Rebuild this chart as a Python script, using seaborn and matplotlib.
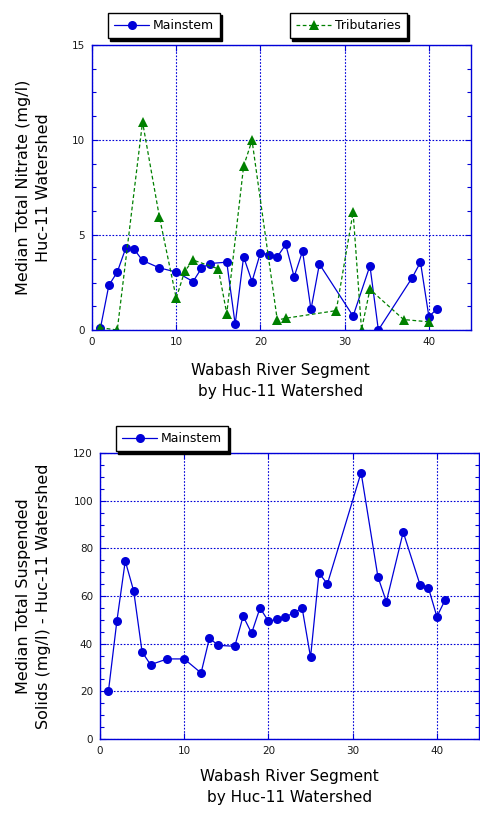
import matplotlib
matplotlib.use("Agg")
import matplotlib.pyplot as plt
from matplotlib.ticker import MultipleLocator
import seaborn as sns
import numpy as np

# ---- data ----
main_no3_x = [1, 2, 3, 4, 5, 6, 8, 10, 12, 13, 14, 16, 17, 18, 19, 20, 21, 22, 23, 24,
              25, 26, 27, 31, 33, 34, 38, 39, 40, 41]
main_no3_y = [0.1, 2.35, 3.05, 4.3, 4.25, 3.66, 3.27, 3.05, 2.55, 3.25, 3.5, 3.57, 0.3, 3.85,
              2.55, 4.07, 3.96, 3.85, 4.5, 2.8, 4.15, 1.08, 3.47, 0.73, 3.38, 0.0, 2.74, 3.57,
              0.7, 1.13]
trib_no3_x = [1, 3, 6, 8, 10, 11, 12, 15, 16, 18, 19, 22, 23, 29, 31, 32, 33, 37, 40]
trib_no3_y = [0.12, 0.0, 10.95, 5.96, 1.68, 3.08, 3.68, 3.22, 0.86, 8.62, 9.98, 0.52, 0.62,
              1.02, 6.2, 0.02, 2.14, 0.55, 0.43]

main_tss_x = [1, 2, 3, 4, 5, 6, 8, 10, 12, 13, 14, 16, 17, 18, 19, 20, 21, 22, 23, 24,
              25, 26, 27, 31, 33, 34, 36, 38, 39, 40, 41]
main_tss_y = [20, 49.4, 74.7, 62.1, 36.5, 31.2, 33.6, 33.6, 27.7, 42.4, 39.3, 38.9, 51.5, 44.4,
              55.0, 49.4, 50.2, 51.3, 52.8, 55.0, 34.3, 69.6, 65.1, 111.8, 68.0, 57.6, 86.8,
              64.7, 63.4, 51.3, 58.5]

top_labels = ["Mainstem", "Tributaries"]
top_ylabel = "Median Total Nitrate (mg/l)\nHuc-11 Watershed"
bot_ylabel = "Median Total Suspended\nSolids (mg/l) - Huc-11 Watershed"
xlabel = "Wabash River Segment\nby Huc-11 Watershed"

BLUE = "#0000D8"
GREEN = "#008000"

sns.set_style("white")
plt.rcParams["font.family"] = ["DejaVu Sans"]
plt.rcParams["text.color"] = "black"
plt.rcParams["axes.labelcolor"] = "black"

W, H = 480, 813
fig = plt.figure(figsize=(W / 100, H / 100), dpi=100)

def style_axes(ax, ymax, ymajor, yminor):
    ax.set_xlim(0, 45)
    ax.set_ylim(0, ymax)
    ax.xaxis.set_major_locator(MultipleLocator(10))
    ax.yaxis.set_major_locator(MultipleLocator(ymajor))
    ax.yaxis.set_minor_locator(MultipleLocator(yminor))
    for s in ax.spines.values():
        s.set_color(BLUE)
        s.set_linewidth(1.0)
        s.set_visible(True)
    ax.grid(True, which="major", color=BLUE, linestyle=(0, (1.5, 1.5)), linewidth=0.8)
    ax.tick_params(axis="both", which="major", direction="in", length=4, width=0.8,
                   color=BLUE, labelsize=7.5, labelcolor="#1a1a1a", pad=5)
    ax.tick_params(axis="y", which="both", left=True, right=True)
    ax.tick_params(axis="y", which="minor", direction="in", length=3, width=0.8, color=BLUE)
    ax.tick_params(axis="x", which="major", bottom=True, top=True)
    ax.set_axisbelow(True)

# ---- top chart ----
ax1 = fig.add_axes([92 / W, 1 - 330 / H, 379 / W, 285 / H])
sns.lineplot(x=main_no3_x, y=main_no3_y, ax=ax1, color=BLUE, marker="o", markersize=6.5,
             markeredgewidth=0, linewidth=0.9, label=top_labels[0], legend=False)
sns.lineplot(x=trib_no3_x, y=trib_no3_y, ax=ax1, color=GREEN, marker="^", markersize=6.5,
             markeredgewidth=0, linewidth=0.9, linestyle=(0, (3, 2)), label=top_labels[1],
             legend=False)
style_axes(ax1, 15, 5, 1.25)
ax1.set_xlabel(xlabel, fontsize=11, linespacing=1.5)
ax1.set_ylabel(top_ylabel, fontsize=11.5, linespacing=1.45)
ax1.yaxis.set_label_coords(-0.108, 0.5)
ax1.xaxis.set_label_coords(0.497, -0.115)
ax1.xaxis.label.set_va("top")

lines = ax1.get_lines()
leg_kw = dict(frameon=True, fancybox=False, edgecolor="black", fontsize=9,
              handlelength=2.8, borderaxespad=0, borderpad=0.5, handletextpad=0.3,
              shadow={"color": "black", "alpha": 1, "ox": 1.5, "oy": -1.5})
lg1 = fig.legend([lines[0]], [top_labels[0]], loc="upper left",
                 bbox_to_anchor=(108 / W, 1 - 13 / H), **leg_kw)
lg2 = fig.legend([lines[1]], [top_labels[1]], loc="upper left",
                 bbox_to_anchor=(290 / W, 1 - 13 / H), **leg_kw)
for lg in (lg1, lg2):
    lg.get_frame().set_linewidth(1.0)

# ---- bottom chart ----
ax2 = fig.add_axes([100 / W, 1 - 739 / H, 379 / W, 286 / H])
sns.lineplot(x=main_tss_x, y=main_tss_y, ax=ax2, color=BLUE, marker="o", markersize=6.5,
             markeredgewidth=0, linewidth=0.9, label=top_labels[0], legend=False)
style_axes(ax2, 120, 20, 5)
ax2.set_xlabel(xlabel, fontsize=11, linespacing=1.5)
ax2.set_ylabel(bot_ylabel, fontsize=11.5, linespacing=1.45)
ax2.yaxis.set_label_coords(-0.128, 0.5)
ax2.xaxis.set_label_coords(0.5, -0.105)
ax2.xaxis.label.set_va("top")
lg3 = fig.legend([ax2.get_lines()[0]], [top_labels[0]], loc="upper left",
                 bbox_to_anchor=(116 / W, 1 - 426 / H), **leg_kw)
lg3.get_frame().set_linewidth(1.0)

fig.savefig("out.png", dpi=100)
